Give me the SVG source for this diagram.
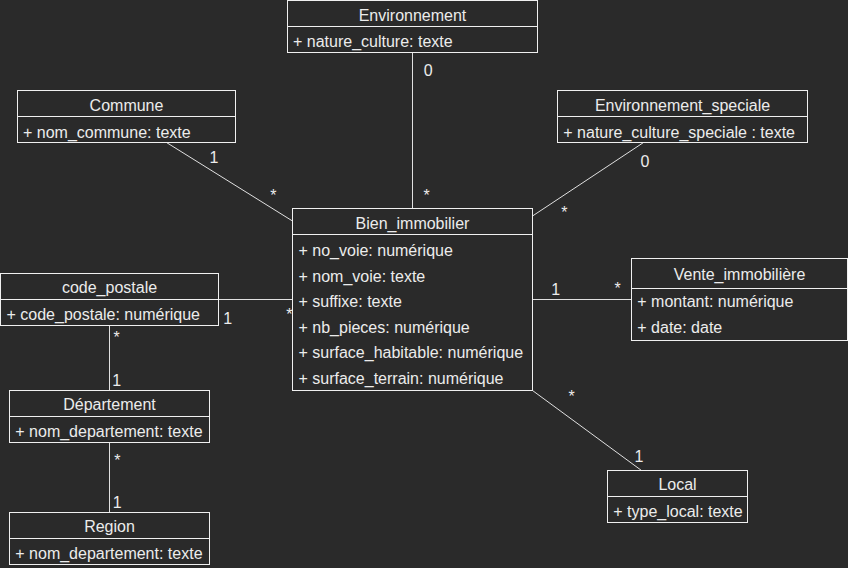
<svg xmlns="http://www.w3.org/2000/svg" width="848" height="568" viewBox="0 0 848 568">
  <style>
    .box { fill: #2a2a2a; stroke: #f0f0f0; stroke-width: 1; }
    .div { stroke: #f0f0f0; stroke-width: 1; }
    .edge { stroke: #e0e0e0; stroke-width: 1; fill: none; }
    text { font-family: "Liberation Sans", Arial, sans-serif; font-size: 16px; fill: #ececec; }
    .title { text-anchor: middle; }
    .mult { text-anchor: middle; }
  </style>
  <rect x="0" y="0" width="848" height="568" fill="#2a2a2a"/>

  <!-- associations -->
  <g id="connectors">
    <line class="edge" x1="412.5" y1="52.5" x2="412.5" y2="208.5"/>
    <line class="edge" x1="166.5" y1="142.5" x2="292.5" y2="221"/>
    <line class="edge" x1="643.5" y1="142.5" x2="532.5" y2="216"/>
    <line class="edge" x1="218.5" y1="299.5" x2="292.5" y2="299.5"/>
    <line class="edge" x1="532.5" y1="299.5" x2="631.5" y2="299.5"/>
    <line class="edge" x1="109.5" y1="325.5" x2="109.5" y2="390.5"/>
    <line class="edge" x1="109.5" y1="442.5" x2="109.5" y2="512.5"/>
    <line class="edge" x1="532.5" y1="390.5" x2="641.5" y2="470.5"/>

    <!-- multiplicities -->
    <text class="mult" x="428.3" y="76">0</text>
    <text class="mult" x="426.7" y="201.3">*</text>
    <text class="mult" x="214" y="162.5">1</text>
    <text class="mult" x="273.3" y="200.7">*</text>
    <text class="mult" x="645" y="166.7">0</text>
    <text class="mult" x="564.3" y="218">*</text>
    <text class="mult" x="227.7" y="324">1</text>
    <text class="mult" x="289.3" y="320">*</text>
    <text class="mult" x="555.7" y="295">1</text>
    <text class="mult" x="617.7" y="293.7">*</text>
    <text class="mult" x="116.7" y="343">*</text>
    <text class="mult" x="116.7" y="385.7">1</text>
    <text class="mult" x="117.3" y="466.3">*</text>
    <text class="mult" x="117.3" y="508">1</text>
    <text class="mult" x="571.7" y="401.7">*</text>
    <text class="mult" x="639" y="462.4">1</text>
  </g>

  <g id="environnement">
    <rect class="box" x="287.5" y="0.5" width="250" height="52"/>
    <line class="div" x1="287.5" y1="26.5" x2="537.5" y2="26.5"/>
    <text class="title" x="412.5" y="20.5">Environnement</text>
    <text x="293" y="47">+ nature_culture: texte</text>
  </g>

  <g id="commune">
    <rect class="box" x="17.5" y="90.5" width="218" height="52"/>
    <line class="div" x1="17.5" y1="116.5" x2="235.5" y2="116.5"/>
    <text class="title" x="126.5" y="110.5">Commune</text>
    <text x="23" y="137.5">+ nom_commune: texte</text>
  </g>

  <g id="environnement_speciale">
    <rect class="box" x="557.5" y="90.5" width="250" height="52"/>
    <line class="div" x1="557.5" y1="116.5" x2="807.5" y2="116.5"/>
    <text class="title" x="682.5" y="110.5">Environnement_speciale</text>
    <text x="563.3" y="137.5">+ nature_culture_speciale : texte</text>
  </g>

  <g id="bien_immobilier">
    <rect class="box" x="292.5" y="208.5" width="240" height="182"/>
    <line class="div" x1="292.5" y1="234.5" x2="532.5" y2="234.5"/>
    <text class="title" x="412.5" y="228.5">Bien_immobilier</text>
    <text x="298.5" y="256">+ no_voie: numérique</text>
    <text x="298.5" y="281.5">+ nom_voie: texte</text>
    <text x="298.5" y="307">+ suffixe: texte</text>
    <text x="298.5" y="332.5">+ nb_pieces: numérique</text>
    <text x="298.5" y="358">+ surface_habitable: numérique</text>
    <text x="298.5" y="383.5">+ surface_terrain: numérique</text>
  </g>

  <g id="code_postale">
    <rect class="box" x="0.5" y="273.5" width="218" height="52"/>
    <line class="div" x1="0.5" y1="299.5" x2="218.5" y2="299.5"/>
    <text class="title" x="109.5" y="293.3">code_postale</text>
    <text x="6.5" y="320">+ code_postale: numérique</text>
  </g>

  <g id="vente_immobiliere">
    <rect class="box" x="631.5" y="258.5" width="216" height="82"/>
    <line class="div" x1="631.5" y1="288.5" x2="847.5" y2="288.5"/>
    <text class="title" x="739.5" y="279.5">Vente_immobilière</text>
    <text x="637.3" y="306.5">+ montant: numérique</text>
    <text x="637.3" y="333.3">+ date: date</text>
  </g>

  <g id="departement">
    <rect class="box" x="9.5" y="390.5" width="200" height="52"/>
    <line class="div" x1="9.5" y1="416.5" x2="209.5" y2="416.5"/>
    <text class="title" x="109.5" y="410">Département</text>
    <text x="15.3" y="437.3">+ nom_departement: texte</text>
  </g>

  <g id="region">
    <rect class="box" x="9.5" y="512.5" width="200" height="52"/>
    <line class="div" x1="9.5" y1="538.5" x2="209.5" y2="538.5"/>
    <text class="title" x="109.5" y="531.8">Region</text>
    <text x="15.3" y="559.3">+ nom_departement: texte</text>
  </g>

  <g id="local">
    <rect class="box" x="607.5" y="470.5" width="140" height="52"/>
    <line class="div" x1="607.5" y1="496.5" x2="747.5" y2="496.5"/>
    <text class="title" x="677.5" y="490">Local</text>
    <text x="613.3" y="516.8">+ type_local: texte</text>
  </g>
</svg>
